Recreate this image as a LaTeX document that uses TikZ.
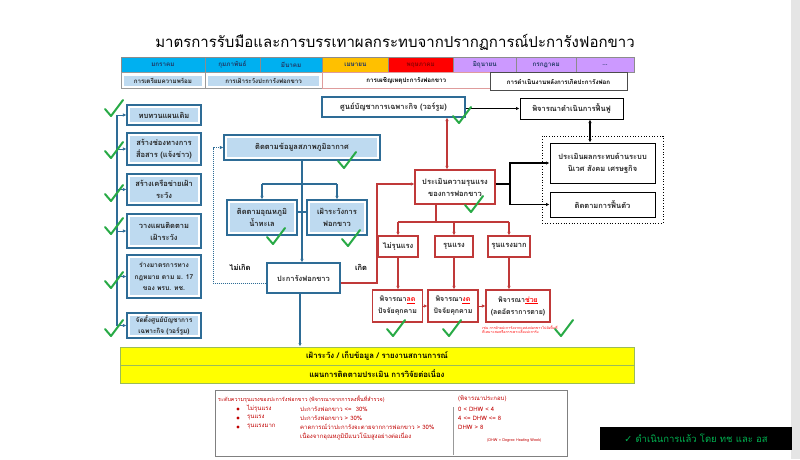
\documentclass[tikz,border=0pt]{standalone}
\usepackage{fontspec}
\newfontfamily\thai[Script=Thai]{Loma}
\newfontfamily\dejavu{DejaVu Sans}
\usetikzlibrary{arrows.meta,calc}
\definecolor{bluebd}{RGB}{46,108,150}
\definecolor{bluefill}{RGB}{190,218,240}
\definecolor{redbd}{RGB}{192,57,57}
\definecolor{chkgreen}{RGB}{40,170,70}
\definecolor{mcyan}{RGB}{0,176,240}
\definecolor{morange}{RGB}{255,192,0}
\definecolor{mred}{RGB}{255,0,0}
\definecolor{mlav}{RGB}{204,153,255}
\definecolor{ybar}{RGB}{255,255,0}
\definecolor{ybd}{RGB}{155,187,89}
\definecolor{legred}{RGB}{192,0,0}
\definecolor{okgreen}{RGB}{0,176,80}
\definecolor{navy}{RGB}{31,56,100}
\begin{document}
\begin{tikzpicture}[x=1pt,y=-1pt,
  font=\thai\bfseries\fontsize{7.5}{12}\selectfont,
  every node/.style={inner sep=0pt, align=center},
  lbox/.style={draw=bluebd, line width=1.2pt, fill=white, text=black!85,
     path picture={\fill[bluefill] ([shift={(3pt,-3pt)}]path picture bounding box.north west) rectangle ([shift={(-3pt,3pt)}]path picture bounding box.south east);}},
  wbox/.style={draw=bluebd, line width=1.2pt, fill=white, text=black!85},
  rbox/.style={draw=redbd, line width=1.2pt, fill=white, text=black!85},
  kbox/.style={draw=black, line width=1pt, fill=white, text=black!85},
  mcell/.style={draw=black!45, line width=0.5pt, minimum height=15pt, font=\thai\bfseries\fontsize{6.3}{7}\selectfont, text=navy},
  ybox/.style={draw=ybd, line width=1pt, fill=ybar, minimum width=514pt, minimum height=18pt, font=\thai\bfseries\fontsize{7.8}{9}\selectfont},
  barr/.style={draw=bluebd, line width=1.3pt, -{Latex[length=3.5pt,width=3.5pt]}},
  bline/.style={draw=bluebd, line width=1.3pt},
  rarr/.style={draw=redbd, line width=1.3pt, -{Latex[length=3.5pt,width=3.5pt]}},
  rline/.style={draw=redbd, line width=1.3pt},
  karr/.style={draw=black, line width=1.1pt, -{Latex[length=3.5pt,width=3.5pt]}},
  legtxt/.style={anchor=west, text=legred, font=\thai\fontsize{6}{7}\selectfont},
  okmark/.pic={\draw[chkgreen, line width=2pt, line cap=round, line join=round] (0,9) -- (6,16) -- (18,0);}
]
\useasboundingbox (0,0) rectangle (800,459);
\fill[black!10] (791,0) rectangle (800,459);

% title
\node[font=\thai\fontsize{15}{17}\selectfont] (title) at (395,42) {มาตรการรับมือและการบรรเทาผลกระทบจากปรากฏการณ์ปะการังฟอกขาว};

% months
\node[mcell, fill=mcyan, minimum width=83.8pt] (m1) at (162.9,65) {มกราคม};
\node[mcell, fill=mcyan, minimum width=55.2pt] (m2) at (232.4,65) {กุมภาพันธ์};
\node[mcell, fill=mcyan, minimum width=62.3pt] (m3) at (291.15,65) {มีนาคม};
\node[mcell, fill=morange, minimum width=66.2pt] (m4) at (355.4,65) {เมษายน};
\node[mcell, fill=mred, minimum width=64.5pt, text=red!55!black] (m5) at (420.75,65) {พฤษภาคม};
\node[mcell, fill=mlav, minimum width=63.4pt] (m6) at (484.7,65) {มิถุนายน};
\node[mcell, fill=mlav, minimum width=59.7pt] (m7) at (546.25,65) {กรกฎาคม};
\node[mcell, fill=mlav, minimum width=57.9pt] (m8) at (605.05,65) {...};

% phases
\node[lbox, draw=black!40, line width=0.5pt, minimum width=83.8pt, minimum height=16pt, font=\thai\bfseries\fontsize{6.2}{7}\selectfont] (r1) at (162.9,80.5) {การเตรียมความพร้อม};
\node[lbox, draw=black!40, line width=0.5pt, minimum width=117.5pt, minimum height=16pt, font=\thai\bfseries\fontsize{6.2}{7}\selectfont] (r2) at (263.55,80.5) {การเฝ้าระวังปะการังฟอกขาว};
\node[draw=redbd!50, line width=0.6pt, minimum width=168pt, minimum height=16pt, font=\thai\bfseries\fontsize{6.2}{7}\selectfont] (r3) at (406.3,80.5) {การเผชิญเหตุปะการังฟอกขาว};
\node[draw=black!70, fill=white, line width=0.8pt, minimum width=137pt, minimum height=18pt, font=\thai\bfseries\fontsize{6.2}{7}\selectfont] (r4) at (558.5,81.5) {การดำเนินงานหลังการเกิดปะการังฟอก};

% left column
\node[lbox, minimum width=74pt, minimum height=20pt] (L1) at (164,115) {ทบทวนแผนเดิม};
\node[lbox, minimum width=74pt, minimum height=32pt] (L2) at (164,149) {สร้างช่องทางการ\\สื่อสาร (แจ้งข่าว)};
\node[lbox, minimum width=74pt, minimum height=31pt] (L3) at (164,189.5) {สร้างเครือข่ายเฝ้า\\ระวัง};
\node[lbox, minimum width=74pt, minimum height=34pt] (L4) at (164,231) {วางแผนติดตาม\\เฝ้าระวัง};
\node[lbox, minimum width=74pt, minimum height=43pt, font=\thai\bfseries\fontsize{6.7}{11.5}\selectfont] (L5) at (164,276.5) {ร่างมาตรการทาง\\กฎหมาย ตาม ม. 17\\ของ พรบ. ทช.};
\node[lbox, minimum width=74pt, minimum height=25pt, font=\thai\bfseries\fontsize{6.5}{10.5}\selectfont] (L6) at (164,325.5) {จัดตั้งศูนย์บัญชาการ\\เฉพาะกิจ (วอร์รูม)};
\coordinate (sp1) at (117,115);
\coordinate (sp6) at (117,325.5);
\draw[bline] (sp1) -- (sp6);
\foreach \n in {L1,L2,L3,L4,L5,L6}{\draw[barr, line width=1pt] (sp1 |- \n.west) -- (\n.west);}

% monitoring
\node[lbox, minimum width=156pt, minimum height=25pt] (C) at (302,147.5) {ติดตามข้อมูลสภาพภูมิอากาศ};
\node[lbox, minimum width=70pt, minimum height=35pt] (T1) at (262,217.5) {ติดตามอุณหภูมิ\\น้ำทะเล};
\node[lbox, minimum width=60pt, minimum height=35pt] (T2) at (337,217.5) {เฝ้าระวังการ\\ฟอกขาว};
\node[wbox, minimum width=73pt, minimum height=30pt] (P) at (303.5,278) {ปะการังฟอกขาว};
\coordinate (tj) at (302,184);
\coordinate (tk) at (302,212);
\draw[bline] (C.south -| tj) -- (tj);
\draw[bline] (T1.north |- tj) -- (T2.north |- tj);
\draw[barr] (T1.north |- tj) -- (T1.north);
\draw[barr] (T2.north |- tj) -- (T2.north);
\draw[barr] (tj) -- (tj |- P.north);
\draw[bline] (T1.east |- tk) -- (tk) -- (T2.west |- tk);
\node (nomore) at (240,267) {ไม่เกิด};
\node (yes) at (361,267) {เกิด};
\coordinate (dl) at (213,147.5);
\draw[draw=bluebd, line width=1pt, densely dotted, -{Latex[length=3.5pt,width=3.5pt]}] ([yshift=-5pt]P.west) -| (dl) -- (C.west);

% war room and response
\node[wbox, minimum width=143pt, minimum height=20pt] (W) at (393.5,107) {ศูนย์บัญชาการเฉพาะกิจ (วอร์รูม)};
\node[rbox, minimum width=80pt, minimum height=34pt] (S) at (455,187) {ประเมินความรุนแรง\\ของการฟอกขาว};
\coordinate (wr) at (447,117);
\draw[draw=redbd, line width=1.1pt, {Latex[length=3.5pt,width=3.5pt]}-{Latex[length=3.5pt,width=3.5pt]}] (W.south -| wr) -- (S.north -| wr);
\coordinate (rl) at (377,184);
\draw[rarr] ([yshift=-5pt]P.east) -| (rl) -- (S.west |- rl);

% recovery
\node[kbox, minimum width=103pt, minimum height=21pt] (F) at (571.5,108.5) {พิจารณาดำเนินการฟื้นฟู};
\draw[karr] (W.east |- F.west) -- (F.west);
\node[draw=black, line width=0.7pt, dotted, minimum width=121pt, minimum height=87pt] (G) at (602.5,179.5) {};
\node[kbox, minimum width=105pt, minimum height=40pt] (E) at (602.5,163) {ประเมินผลกระทบด้านระบบ\\นิเวศ สังคม เศรษฐกิจ};
\node[kbox, minimum width=105pt, minimum height=25pt] (R) at (602.5,204.5) {ติดตามการฟื้นตัว};
\coordinate (fx) at (590,119);
\draw[draw=black, line width=1.1pt, {Latex[length=3.5pt,width=3.5pt]}-{Latex[length=3.5pt,width=3.5pt]}] (F.south -| fx) -- (E.north -| fx);
\coordinate (kj) at (510,184);
\draw[draw=black, line width=1.1pt] (S.east |- kj) -- (kj);
\draw[karr] (kj) |- (E.west);
\draw[karr] (kj) |- (R.west);

% severity tree
\node[rbox, minimum width=40pt, minimum height=21pt] (V1) at (398,246.5) {ไม่รุนแรง};
\node[rbox, minimum width=38pt, minimum height=21pt] (V2) at (454,246.5) {รุนแรง};
\node[rbox, minimum width=42pt, minimum height=21pt] (V3) at (509,246.5) {รุนแรงมาก};
\coordinate (sj) at (436,222);
\draw[rline] (S.south -| sj) -- (sj);
\draw[rline] (V1.north |- sj) -- (V3.north |- sj);
\foreach \n in {V1,V2,V3}{\draw[rarr] (\n.north |- sj) -- (\n.north);}
\node[rbox, minimum width=50pt, minimum height=32pt, font=\thai\bfseries\fontsize{7}{12}\selectfont] (D1) at (397.5,306) {พิจารณา\textcolor{red}{\underline{ลด}}\\ปัจจัยคุกคาม};
\node[rbox, minimum width=50pt, minimum height=32pt, font=\thai\bfseries\fontsize{7}{12}\selectfont] (D2) at (453,306) {พิจารณา\textcolor{red}{\underline{งด}}\\ปัจจัยคุกคาม};
\node[rbox, minimum width=64pt, minimum height=32pt, font=\thai\bfseries\fontsize{7}{12}\selectfont] (D3) at (518,306) {พิจารณา\textcolor{red}{\underline{ช่วย}}\\(ลดอัตราการตาย)};
\draw[rarr] (V1.south) -- (V1.south |- D1.north);
\draw[rarr] (V2.south) -- (V2.south |- D2.north);
\draw[rarr] (V3.south) -- (V3.south |- D3.north);
\draw[rarr, line width=1pt] (D1.east) -- (D2.west);
\draw[rarr, line width=1pt] (D2.east) -- (D3.west);
\node[text=red, font=\thai\fontsize{3.6}{4.5}\selectfont, anchor=north west, align=left] (note) at (482,325) {เช่น การย้ายปะการังจากแหล่งฟอกขาวไปยังพื้นที่\\ที่เหมาะสมหรือการเพาะเลี้ยงปะการัง};

% yellow bars
\node[ybox] (Y1) at (377,356) {เฝ้าระวัง / เก็บข้อมูล / รายงานสถานการณ์};
\node[ybox] (Y2) at (377,374) {แผนการติดตามประเมิน การวิจัยต่อเนื่อง};
\draw[barr] (P.south -| 300,0) -- (Y1.north -| 300,0);

% legend
\node[draw=black!50, line width=0.7pt, minimum width=352pt, minimum height=66pt] (leg) at (391,423) {};
\node[legtxt, font=\thai\fontsize{5.4}{7}\selectfont] (lg0) at (218,399) {ระดับความรุนแรงของปะการังฟอกขาว (พิจารณาจากการลงพื้นที่สำรวจ)};
\fill[legred] (238,409) circle (1.6) (238,418) circle (1.6) (238,427) circle (1.6);
\node[legtxt] (lg1) at (247,409) {ไม่รุนแรง};
\node[legtxt] (lg2) at (247,418) {รุนแรง};
\node[legtxt] (lg3) at (247,427) {รุนแรงมาก};
\node[legtxt] (lv1) at (300,409) {ปะการังฟอกขาว <=~~30\%};
\node[legtxt] (lv2) at (300,418) {ปะการังฟอกขาว > 30\%};
\node[legtxt] (lv3) at (300,427) {คาดการณ์ว่าปะการังจะตายจากการฟอกขาว > 30\%};
\node[legtxt] (lv4) at (300,436) {เนื่องจากอุณหภูมิมีแนวโน้มสูงอย่างต่อเนื่อง};
\draw[black!40, line width=0.6pt] (453,407) -- (453,455);
\node[legtxt] (lr0) at (458,399) {(พิจารณาประกอบ)};
\node[legtxt] (lr1) at (458,409) {0 < DHW < 4};
\node[legtxt] (lr2) at (458,418) {4 <= DHW <= 8};
\node[legtxt] (lr3) at (458,427) {DHW > 8};
\node[legtxt, font=\thai\fontsize{3.8}{5}\selectfont] (lr4) at (487,441) {(DHW = Degree Heating Week)};

% done box
\node[fill=black, minimum width=192pt, minimum height=23pt, text=okgreen, font=\thai\fontsize{9.5}{11}\selectfont] (done) at (696,438.5) {{\dejavu ✓} ดำเนินการแล้ว โดย ทช และ อส};

% check marks
\foreach \p in {(105,100),(105,142),(105,185),(105,218),(105,272),(105,320),(338,152),(267,228),(342,230),(453,107),(465,196),(387,320),(443,320),(555,320)}{\pic at \p {okmark};}
\end{tikzpicture}
\end{document}
